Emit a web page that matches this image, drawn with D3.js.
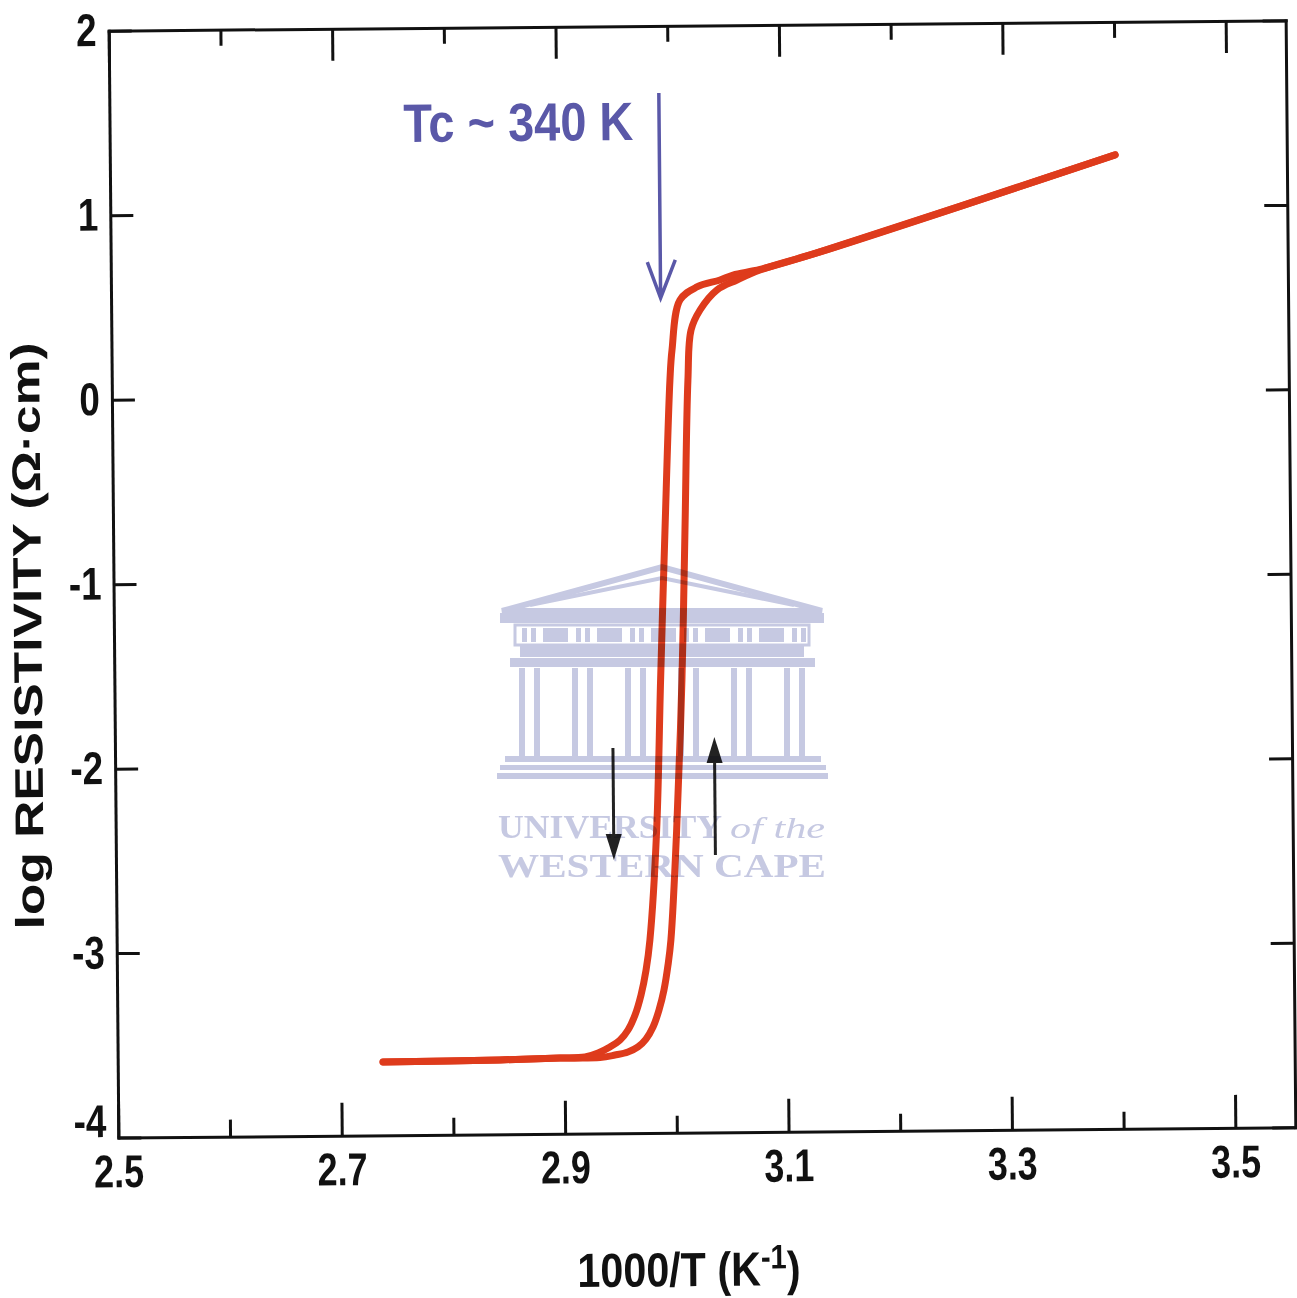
<!DOCTYPE html>
<html><head><meta charset="utf-8">
<script src="https://cdn.jsdelivr.net/npm/d3@7"></script>
<style>body{margin:0;background:#fff}svg{display:block}</style>
</head><body>
<svg id="chart" width="1297" height="1298"></svg>
<script>
// ---------- data ----------
const xDomain = [2.5, 3.5537];
const yDomain = [-4, 2];
const xMajorTicks = [2.5, 2.7, 2.9, 3.1, 3.3, 3.5];
const xMinorTicks = [2.6, 2.8, 3.0, 3.2, 3.4];
const yMajorTicks = [2, 1, 0, -1, -2, -3, -4];
const xTitle = "1000/T (K";
const xTitleSup = "-1";
const yTitle = "log RESISTIVITY (\u03A9\u00B7cm)";

// heating branch (left loop branch, resistivity drops)
const heatingX = [2.7375, 2.842, 2.896, 2.9184, 2.9301, 2.9408, 2.9499, 2.9571, 2.9635, 2.969, 2.9737, 2.9774, 2.9843, 2.989, 2.9941, 2.9997, 3.0018, 3.0093, 3.0246, 3.0453, 3.057, 3.0812, 3.135, 3.40];
const heatingY = [-3.603, -3.597, -3.590, -3.585, -3.564, -3.532, -3.495, -3.441, -3.360, -3.252, -3.117, -2.954, -2.358, -1.545, -0.733, 0.080, 0.243, 0.513, 0.583, 0.620, 0.646, 0.675, 0.767, 1.279];
// cooling branch (right loop branch, resistivity rises)
const coolingX = [2.7375, 2.842, 2.896, 2.9318, 2.9452, 2.9569, 2.9659, 2.9731, 2.9795, 2.985, 2.9896, 2.9934, 2.9962, 3.0022, 3.0081, 3.012, 3.0158, 3.019, 3.0272, 3.0425, 3.0605, 3.0812, 3.135, 3.40];
const coolingY = [-3.603, -3.597, -3.590, -3.589, -3.576, -3.560, -3.533, -3.491, -3.426, -3.334, -3.226, -3.091, -2.955, -2.359, -1.546, -0.732, 0.079, 0.350, 0.458, 0.566, 0.619, 0.672, 0.767, 1.279];

// annotations (data coordinates)
const tcLabel = "Tc ~ 340 K";
const tcLabelPos = [2.763, 1.383];
const tcArrow = {x: 2.992, y0: 1.636, y1: 0.525};
const heatArrow = {x: 2.9458, y0: -1.912, y1: -2.519};
const coolArrow = {x: 3.0367, y0: -2.496, y1: -1.857};

// ---------- drawing ----------
const svg = d3.select("#chart");
const FONT = "'Liberation Sans', Arial, Helvetica, sans-serif";
const RED = "#de3b1c";
const BLUE = "#5a58a8";

const g = svg.append("g").attr("transform", "rotate(-0.5,702,579)");
const x = d3.scaleLinear().domain(xDomain).range([113.5, 1290.5]);
const y = d3.scaleLinear().domain(yDomain).range([1132.5, 25.5]);
const [xl, xr] = x.range();
const [yb, yt] = y.range();

function condense(sel, ratio) {
  sel.each(function () {
    const w = this.getComputedTextLength();
    d3.select(this).attr("textLength", w * ratio).attr("lengthAdjust", "spacingAndGlyphs");
  });
}
function styleAxis(a) {
  a.attr("font-family", FONT).attr("font-size", 46).attr("font-weight", "bold");
  a.select(".domain").attr("stroke", "#111").attr("stroke-width", 3).attr("stroke-linecap", "square");
  a.selectAll(".tick line").attr("stroke", "#111").attr("stroke-width", 3);
  a.selectAll(".tick text").attr("fill", "#111");
}

// bottom
const axB = g.append("g").attr("transform", `translate(0,${yb})`)
  .call(d3.axisBottom(x).tickValues(xMajorTicks).tickSizeInner(-33).tickSizeOuter(0).tickPadding(17).tickFormat(d3.format(".1f")));
styleAxis(axB); condense(axB.selectAll(".tick text"), 0.78);
const axBm = g.append("g").attr("transform", `translate(0,${yb})`)
  .call(d3.axisBottom(x).tickValues(xMinorTicks).tickSizeInner(-17).tickSizeOuter(0).tickFormat(""));
styleAxis(axBm); axBm.select(".domain").remove();
// top
const axT = g.append("g").attr("transform", `translate(0,${yt})`)
  .call(d3.axisTop(x).tickValues(xMajorTicks).tickSizeInner(-32).tickSizeOuter(0).tickFormat(""));
styleAxis(axT);
const axTm = g.append("g").attr("transform", `translate(0,${yt})`)
  .call(d3.axisTop(x).tickValues(xMinorTicks).tickSizeInner(-16).tickSizeOuter(0).tickFormat(""));
styleAxis(axTm); axTm.select(".domain").remove();
// left
const axL = g.append("g").attr("transform", `translate(${xl},0)`)
  .call(d3.axisLeft(y).tickValues(yMajorTicks).tickSizeInner(-23).tickSizeOuter(0).tickPadding(12).tickFormat(d => String(d)));
styleAxis(axL); condense(axL.selectAll(".tick text"), 0.8);
axL.selectAll(".tick text").filter(d => d === yDomain[0]).attr("y", -16);
// right
const axR = g.append("g").attr("transform", `translate(${xr},0)`)
  .call(d3.axisRight(y).tickValues(yMajorTicks).tickSizeInner(-23).tickSizeOuter(0).tickFormat(""));
styleAxis(axR);

// titles
const xt = g.append("text").attr("transform", "translate(683,1286) scale(0.86,1)").attr("text-anchor", "middle")
  .attr("font-family", FONT).attr("font-weight", "bold").attr("font-size", 48).attr("fill", "#111");
xt.append("tspan").text(xTitle);
xt.append("tspan").attr("dy", -17).attr("font-size", 34).text(xTitleSup);
xt.append("tspan").attr("dy", 17).text(")");

g.append("text").attr("transform", "translate(41,630) rotate(-90)").attr("text-anchor", "middle")
  .attr("font-family", FONT).attr("font-weight", "bold").attr("font-size", 40).attr("fill", "#111")
  .attr("textLength", 587).attr("lengthAdjust", "spacingAndGlyphs")
  .text(yTitle);

// curves
const line = d3.line().x(d => x(d[0])).y(d => y(d[1])).curve(d3.curveCatmullRom.alpha(0.5));
const heating = heatingX.map((v, i) => [v, heatingY[i]]);
const cooling = coolingX.map((v, i) => [v, coolingY[i]]);
[heating, cooling].forEach(s => {
  g.append("path").datum(s).attr("d", line).attr("fill", "none").attr("stroke", RED)
    .attr("stroke-width", 7).attr("stroke-linecap", "round").attr("stroke-linejoin", "round");
});

// Tc annotation
g.append("text").attr("x", x(tcLabelPos[0])).attr("y", y(tcLabelPos[1]))
  .attr("font-family", FONT).attr("font-weight", "bold").attr("font-size", 54).attr("fill", BLUE)
  .attr("textLength", 230).attr("lengthAdjust", "spacingAndGlyphs")
  .text(tcLabel);
const ax0 = x(tcArrow.x), ay0 = y(tcArrow.y0), ay1 = y(tcArrow.y1);
g.append("path").attr("d", `M${ax0},${ay0}V${ay1}M${ax0 - 13},${ay1 - 36}L${ax0},${ay1}L${ax0 + 15},${ay1 - 38}`)
  .attr("fill", "none").attr("stroke", BLUE).attr("stroke-width", 3.5).attr("stroke-linejoin", "miter");

// direction arrows
function blackArrow(a) {
  const xx = x(a.x), y0 = y(a.y0), y1 = y(a.y1);
  const dir = Math.sign(y1 - y0);
  g.append("line").attr("x1", xx).attr("x2", xx).attr("y1", y0).attr("y2", y1 - dir * 20)
    .attr("stroke", "#222").attr("stroke-width", 3);
  g.append("path").attr("d", `M${xx},${y1}L${xx - 8},${y1 - dir * 26}L${xx + 8},${y1 - dir * 26}Z`).attr("fill", "#222");
}
blackArrow(heatArrow);
blackArrow(coolArrow);

// ---------- scan watermark (decoration) ----------
const WM = "#c6c9e2";
const wm = svg.append("g").style("mix-blend-mode", "multiply");
wm.append("path").attr("d", "M502,611 L662,567 L822,611 Z").attr("fill", "none").attr("stroke", WM).attr("stroke-width", 6);
wm.append("path").attr("d", "M530,605 L662,578 L794,605").attr("fill", "none").attr("stroke", WM).attr("stroke-width", 4);
wm.append("rect").attr("x", 500).attr("y", 613).attr("width", 324).attr("height", 10).attr("fill", WM);
for (let i = 0; i < 6; i++) {
  const bx = 522 + i * 54;
  wm.append("rect").attr("x", bx).attr("y", 628).attr("width", 5).attr("height", 14).attr("fill", WM);
  wm.append("rect").attr("x", bx + 9).attr("y", 628).attr("width", 5).attr("height", 14).attr("fill", WM);
  if (i < 5) wm.append("rect").attr("x", bx + 21).attr("y", 628).attr("width", 25).attr("height", 14).attr("fill", WM);
}
wm.append("rect").attr("x", 515).attr("y", 625).attr("width", 294).attr("height", 20).attr("fill", "none").attr("stroke", WM).attr("stroke-width", 3);
wm.append("rect").attr("x", 520).attr("y", 646).attr("width", 284).attr("height", 11).attr("fill", WM);
wm.append("rect").attr("x", 510).attr("y", 658).attr("width", 305).attr("height", 9).attr("fill", WM);
for (let i = 0; i < 6; i++) {
  const cx = 530 + i * 53;
  wm.append("rect").attr("x", cx - 11).attr("y", 668).attr("width", 6).attr("height", 88).attr("fill", WM);
  wm.append("rect").attr("x", cx + 4).attr("y", 668).attr("width", 6).attr("height", 88).attr("fill", WM);
}
wm.append("rect").attr("x", 505).attr("y", 756).attr("width", 316).attr("height", 6).attr("fill", WM);
wm.append("rect").attr("x", 500).attr("y", 765).attr("width", 326).attr("height", 5).attr("fill", WM);
wm.append("rect").attr("x", 497).attr("y", 773).attr("width", 331).attr("height", 6).attr("fill", WM);
const serif = "'Liberation Serif', 'DejaVu Serif', serif";
wm.append("text").attr("x", 498).attr("y", 838).attr("font-family", serif).attr("font-weight", "bold").attr("font-size", 33).attr("fill", WM)
  .attr("textLength", 224).attr("lengthAdjust", "spacingAndGlyphs").text("UNIVERSITY");
wm.append("text").attr("x", 730).attr("y", 838).attr("font-family", serif).attr("font-style", "italic").attr("font-size", 30).attr("fill", WM)
  .attr("textLength", 95).attr("lengthAdjust", "spacingAndGlyphs").text("of the");
wm.append("text").attr("x", 498).attr("y", 877).attr("font-family", serif).attr("font-weight", "bold").attr("font-size", 33).attr("fill", WM)
  .attr("textLength", 328).attr("lengthAdjust", "spacingAndGlyphs").text("WESTERN CAPE");
</script>
</body></html>
